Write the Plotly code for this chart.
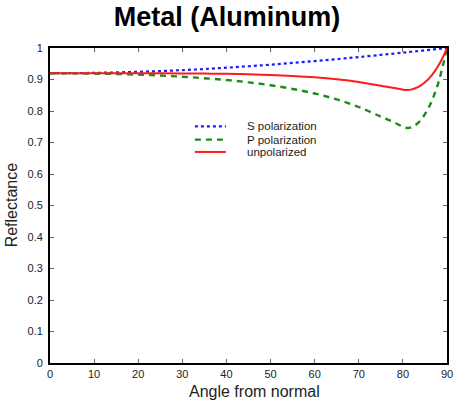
import plotly.graph_objects as go

angles = [0, 5, 10, 15, 20, 25, 30, 35, 40, 45, 50, 55, 60, 65, 70, 75, 78, 80, 81, 82, 83, 84, 85, 86, 87, 88, 89, 90]
s_pol = [0.920, 0.9203, 0.921, 0.9225, 0.9244, 0.9268, 0.9298, 0.9333, 0.9375, 0.942, 0.9471, 0.9526,
         0.9584, 0.9647, 0.9713, 0.9782, 0.9824, 0.9853, 0.9868, 0.9882, 0.9896, 0.9911, 0.9925, 0.994,
         0.9955, 0.997, 0.9985, 1.0]
p_pol = [0.920, 0.9195, 0.9188, 0.9174, 0.9154, 0.9125, 0.9088, 0.904, 0.8984, 0.891, 0.8819, 0.870,
         0.8556, 0.8366, 0.8127, 0.782, 0.764, 0.750, 0.746, 0.749, 0.757, 0.770, 0.790, 0.815,
         0.848, 0.888, 0.940, 1.0]
unpol = [0.920, 0.9199, 0.9199, 0.920, 0.9199, 0.9197, 0.9193, 0.9187, 0.918, 0.9165, 0.9145, 0.9113,
         0.907, 0.9007, 0.892, 0.8801, 0.8732, 0.8677, 0.8664, 0.8686, 0.8733, 0.8806, 0.8913, 0.9045,
         0.9218, 0.9425, 0.969, 1.0]

series_names = ["S polarization", "P polarization", "unpolarized"]
x_ticks = [0, 10, 20, 30, 40, 50, 60, 70, 80, 90]
y_ticks = [0, 0.1, 0.2, 0.3, 0.4, 0.5, 0.6, 0.7, 0.8, 0.9, 1]
y_tick_text = ["0", "0.1", "0.2", "0.3", "0.4", "0.5", "0.6", "0.7", "0.8", "0.9", "1"]

FONT = "Liberation Sans, Arial, Helvetica, sans-serif"
styles = [
    dict(color="#1a1aff", width=2.2, dash="dot"),
    dict(color="#1a8c1a", width=2.4, dash="6px,5px"),
    dict(color="#ff1a1a", width=2),
]

fig = go.Figure()
for name, ys, st in zip(series_names, [s_pol, p_pol, unpol], styles):
    fig.add_trace(go.Scatter(x=angles, y=ys, mode="lines", name=name, showlegend=False,
                             line=dict(shape="spline", **st)))

# manual legend (compact spacing like the reference)
leg_y = [0.751, 0.709, 0.670]
for name, st, yy in zip(series_names, styles, leg_y):
    fig.add_shape(type="line", xref="paper", yref="paper", x0=0.365, x1=0.443, y0=yy, y1=yy,
                  line=st)
    fig.add_annotation(xref="paper", yref="paper", x=0.49, y=yy, text=name, showarrow=False,
                       xanchor="left", yanchor="middle",
                       font=dict(family=FONT, size=11.5, color="#222"))

# axis titles
fig.add_annotation(xref="paper", yref="paper", x=0.516, y=-0.092, text="Angle from normal",
                   showarrow=False, xanchor="center", yanchor="middle",
                   font=dict(family=FONT, size=16, color="#222"))
fig.add_annotation(xref="paper", yref="paper", x=-0.097, y=0.502, text="Reflectance", textangle=-90,
                   showarrow=False, xanchor="center", yanchor="middle",
                   font=dict(family=FONT, size=16, color="#222"))

axis_common = dict(showline=True, linecolor="black", linewidth=1.8, mirror="ticks",
                   ticks="inside", ticklen=4, tickcolor="#666", tickwidth=1,
                   showgrid=False, zeroline=False, automargin=False,
                   tickfont=dict(family=FONT, size=11, color="#222"))

fig.update_layout(
    width=454, height=404,
    paper_bgcolor="white", plot_bgcolor="white",
    margin=dict(l=50, r=7, t=48, b=41),
    title=dict(text="<b>Metal (Aluminum)</b>", x=0.5, xanchor="center", y=0.96, yanchor="middle",
               font=dict(family=FONT, size=27, color="black")),
    xaxis=dict(range=[0, 90], tickvals=x_ticks, **axis_common),
    yaxis=dict(range=[0, 1], tickvals=y_ticks, ticktext=y_tick_text, ticklabelstandoff=3,
               **axis_common),
    showlegend=False,
)

fig.write_html("out.html", config={"displayModeBar": False},
               post_script="document.body.style.margin='0';document.body.style.overflow='hidden';")
